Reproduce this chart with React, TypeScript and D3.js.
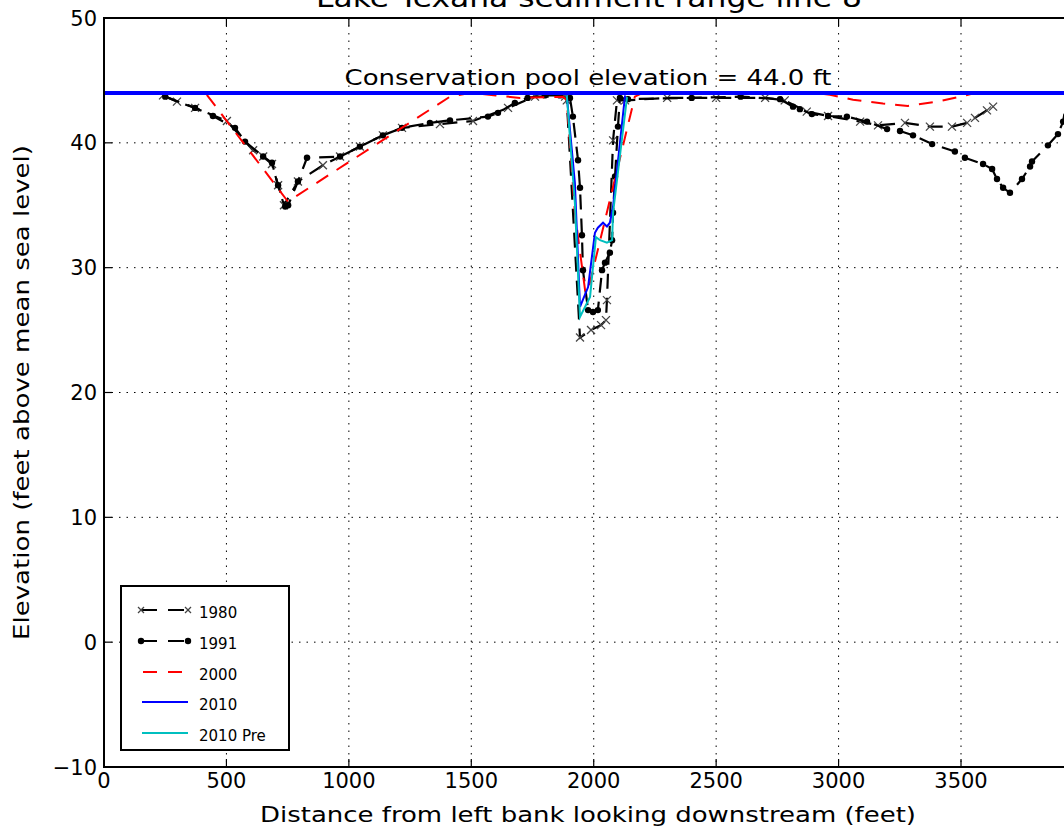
import React from 'react';
import * as d3 from 'd3';

type P = [number, number];

const xTicks = [0, 500, 1000, 1500, 2000, 2500, 3000, 3500];
const yTicks = [-10, 0, 10, 20, 30, 40, 50];
const poolElevation = 44.0;
const seriesNames = ['1980', '1991', '2000', '2010', '2010 Pre'];

const s1980: P[] = [
  [241, 43.8], [298, 43.3], [372, 42.8], [502, 41.75], [609, 39.4], [650, 38.9], [686, 38.3], [711, 36.6],
  [735, 35.0], [792, 36.9], [894, 38.2], [964, 38.9], [1045, 39.7], [1139, 40.6], [1217, 41.2],
  [1372, 41.5], [1507, 41.75], [1650, 42.8], [1760, 43.7], [1883, 43.7], [1890, 43.4], [1944, 24.4],
  [1989, 25.0], [2030, 25.4], [2050, 25.8], [2054, 27.4], [2079, 40.2], [2095, 43.4], [2128, 43.4],
  [2300, 43.6], [2500, 43.6], [2700, 43.6], [2780, 43.4], [2870, 42.5], [2957, 42.15], [3088, 41.7],
  [3161, 41.4], [3271, 41.6], [3373, 41.3], [3463, 41.3], [3525, 41.6], [3557, 42.0], [3606, 42.6],
  [3631, 42.9],
];

const s1991: P[] = [
  [250, 43.7], [372, 42.8], [445, 42.15], [535, 41.2], [576, 40.1], [650, 38.9], [686, 38.4], [711, 36.6],
  [740, 34.9], [752, 35.0], [792, 36.9], [829, 38.8], [964, 38.9], [1045, 39.7], [1139, 40.6],
  [1217, 41.2], [1331, 41.6], [1413, 41.8], [1568, 42.1], [1609, 42.4], [1678, 43.2], [1730, 43.6],
  [1800, 43.8], [1862, 43.8], [1903, 43.6], [1915, 42.1], [1936, 38.6], [1944, 36.4], [1952, 32.6],
  [1956, 29.8], [1977, 26.6], [1997, 26.45], [2017, 26.6], [2034, 29.8], [2046, 30.4], [2066, 31.2],
  [2075, 32.2], [2079, 34.4], [2087, 37.3], [2099, 41.3], [2107, 43.6], [2140, 43.5], [2400, 43.6],
  [2600, 43.7], [2761, 43.5], [2814, 42.9], [2842, 42.7], [2891, 42.3], [2957, 42.15], [3034, 42.1],
  [3116, 41.7], [3198, 41.1], [3251, 40.95], [3304, 40.6], [3382, 39.9], [3475, 39.3], [3516, 38.8],
  [3590, 38.3], [3627, 37.9], [3647, 37.1], [3672, 36.4], [3700, 36.0], [3749, 37.1], [3782, 38.1],
  [3790, 38.5], [3855, 39.8], [3896, 40.7], [3917, 41.7], [3935, 43.8],
];

const s2000: P[] = [
  [420, 43.85], [751, 35.3], [1413, 43.7], [1495, 44.0], [1600, 43.8], [1699, 43.6], [1874, 43.7],
  [1890, 43.4], [1923, 34.4], [1966, 28.0], [1977, 28.2], [2168, 43.7], [2200, 44.0], [2900, 44.0],
  [2965, 43.85], [3059, 43.45], [3181, 43.15], [3283, 42.95], [3402, 43.3], [3508, 43.75], [3560, 44.0],
];

const s2010: P[] = [
  [1890, 43.8], [1923, 36.8], [1944, 26.85], [1977, 28.45], [2005, 32.8], [2017, 33.2], [2038, 33.6],
  [2054, 33.3], [2066, 33.6], [2079, 34.9], [2128, 43.8],
];

const s2010Pre: P[] = [
  [1890, 43.8], [1923, 35.2], [1944, 26.05], [1985, 27.65], [2009, 32.45], [2026, 32.2], [2054, 32.0],
  [2075, 32.2], [2079, 34.4], [2136, 43.67],
];

const FONT = 'DejaVu Sans, Bitstream Vera Sans, sans-serif';

export default function App() {
  const W = 1064;
  const H = 829;
  const left = 104, top = 18, bottom = 767;
  const right = left + 0.24486 * 4000;
  const x = d3.scaleLinear().domain([0, 4000]).range([left, right]);
  const y = d3.scaleLinear().domain([-10, 50]).range([bottom, top]);
  const line = d3.line<P>().x(d => x(d[0])).y(d => y(d[1]));
  const fmt = (v: number) => (v < 0 ? '\u2212' + Math.abs(v) : String(v));

  const xMark = (cx: number, cy: number, k: string, s = 4) => (
    <g key={k} stroke="#444" strokeWidth={1.3}>
      <line x1={cx - s} y1={cy - s} x2={cx + s} y2={cy + s} />
      <line x1={cx - s} y1={cy + s} x2={cx + s} y2={cy - s} />
    </g>
  );
  const dot = (cx: number, cy: number, k: string) => <circle key={k} cx={cx} cy={cy} r={3.2} fill="#000" />;

  const legendX = 121, legendY = 586, legendW = 168, legendH = 164;
  const rows = [610, 641, 672, 702, 733];

  return (
    <svg width={W} height={H} style={{ position: 'fixed', left: 0, top: 0, background: '#fff' }} fontFamily={FONT}>
      <defs>
        <clipPath id="plot">
          <rect x={left} y={top} width={right - left} height={bottom - top} />
        </clipPath>
      </defs>
      <rect x={0} y={0} width={W} height={H} fill="#fff" />
      {/* grid */}
      <g stroke="#000" strokeWidth={1} strokeDasharray="1.5,6">
        {xTicks.filter(t => t > 0).map(t => (
          <line key={'gx' + t} x1={x(t)} x2={x(t)} y1={top} y2={bottom} />
        ))}
        {yTicks.filter(t => t > -10 && t < 50).map(t => (
          <line key={'gy' + t} x1={left} x2={right} y1={y(t)} y2={y(t)} />
        ))}
      </g>
      <g clipPath="url(#plot)">
        <path d={line(s1980) || ''} fill="none" stroke="#000" strokeWidth={2.2} strokeDasharray="15,9" />
        {s1980.map((p, i) => xMark(x(p[0]), y(p[1]), 'm80' + i))}
        <path d={line(s1991) || ''} fill="none" stroke="#000" strokeWidth={2.2} strokeDasharray="15,9" />
        {s1991.map((p, i) => dot(x(p[0]), y(p[1]), 'm91' + i))}
        <path d={line(s2000) || ''} fill="none" stroke="#ff0000" strokeWidth={2} strokeDasharray="14,10" />
        <path d={line(s2010) || ''} fill="none" stroke="#0000ff" strokeWidth={2} />
        <path d={line(s2010Pre) || ''} fill="none" stroke="#00bfbf" strokeWidth={2} />
        <line x1={left} x2={right} y1={y(poolElevation)} y2={y(poolElevation)} stroke="#0000ff" strokeWidth={4} />
      </g>
      <text x={588} y={85} fontSize={22} textAnchor="middle" fill="#000" textLength={487} lengthAdjust="spacingAndGlyphs">
        Conservation pool elevation = 44.0 ft
      </text>
      {/* frame */}
      <rect x={left} y={top} width={right - left} height={bottom - top} fill="none" stroke="#000" strokeWidth={2} />
      {/* ticks */}
      <g stroke="#000" strokeWidth={1.2}>
        {xTicks.map(t => (
          <g key={'tx' + t}>
            <line x1={x(t)} x2={x(t)} y1={bottom} y2={bottom - 8} />
            <line x1={x(t)} x2={x(t)} y1={top} y2={top + 8} />
          </g>
        ))}
        {yTicks.map(t => (
          <line key={'ty' + t} x1={left} x2={left + 8} y1={y(t)} y2={y(t)} />
        ))}
      </g>
      <g fontSize={21} fill="#000">
        {xTicks.map(t => (
          <text key={'lx' + t} x={x(t)} y={788} textAnchor="middle">{fmt(t)}</text>
        ))}
        {yTicks.map(t => (
          <text key={'ly' + t} x={97} y={y(t) + 7.5} textAnchor="end">{fmt(t)}</text>
        ))}
      </g>
      <text x={588} y={822} fontSize={22} textAnchor="middle" textLength={656} lengthAdjust="spacingAndGlyphs">
        Distance from left bank looking downstream (feet)
      </text>
      <text transform="translate(29,392.5) rotate(-90)" fontSize={22} textAnchor="middle" textLength={495} lengthAdjust="spacingAndGlyphs">
        Elevation (feet above mean sea level)
      </text>
      <text x={589} y={7} fontSize={27} textAnchor="middle" textLength={546} lengthAdjust="spacingAndGlyphs">
        Lake Texana sediment range line 8
      </text>
      {/* legend */}
      <rect x={legendX} y={legendY} width={legendW} height={legendH} fill="#fff" stroke="#000" strokeWidth={2} />
      {seriesNames.map((name, i) => {
        const ry = rows[i];
        let sample: React.ReactNode = null;
        if (i === 0 || i === 1) {
          sample = (
            <g>
              <line x1={141} x2={188} y1={ry} y2={ry} stroke="#000" strokeWidth={2} strokeDasharray="16,11" />
              {i === 0 ? xMark(141, ry, 'a', 3) : dot(141, ry, 'a')}
              {i === 0 ? xMark(188, ry, 'b', 3) : dot(188, ry, 'b')}
            </g>
          );
        } else if (i === 2) {
          sample = <line x1={143} x2={188} y1={ry} y2={ry} stroke="#ff0000" strokeWidth={2} strokeDasharray="14,11" />;
        } else {
          sample = <line x1={142} x2={188} y1={ry} y2={ry} stroke={i === 3 ? '#0000ff' : '#00bfbf'} strokeWidth={2} />;
        }
        return (
          <g key={name}>
            {sample}
            <text x={199} y={ry + 8} fontSize={15}>{name}</text>
          </g>
        );
      })}
    </svg>
  );
}
